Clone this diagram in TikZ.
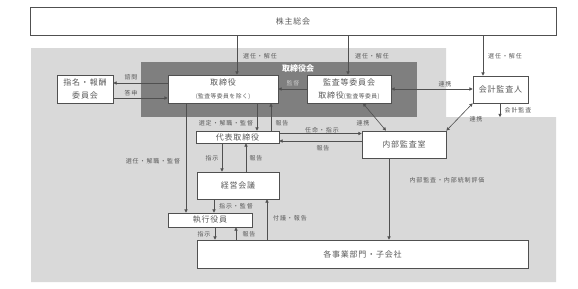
\documentclass[tikz,border=0pt]{standalone}
\usepackage{fontspec}
\setmainfont{Noto Sans CJK JP}
\usetikzlibrary{arrows.meta}
\definecolor{bglight}{HTML}{D9D9D9}
\definecolor{bgdark}{HTML}{7F7F7F}
\definecolor{ln}{HTML}{505050}
\definecolor{tx}{HTML}{5A5A5A}
\definecolor{ondark}{HTML}{C8C8C8}
\newcommand{\boxfont}{\fontsize{8}{13}\selectfont\addfontfeature{LetterSpace=10}}
\newcommand{\smallfont}{\fontsize{5.8}{13}\selectfont\addfontfeature{LetterSpace=8}}
\tikzset{
  box/.style={draw=ln, line width=0.7pt, fill=white, text=tx, inner sep=0pt,
    font=\boxfont, align=center},
  lbl/.style={text=tx, inner sep=0pt, font=\fontsize{6}{7}\selectfont\addfontfeature{LetterSpace=15}},
  arr/.style={draw=ln, line width=0.6pt, -{Triangle[length=3.2pt,width=3.2pt]}},
  darr/.style={draw=ln, line width=0.6pt, {Triangle[length=3.2pt,width=3.2pt]}-{Triangle[length=3.2pt,width=3.2pt]}}
}
\begin{document}
\begin{tikzpicture}[x=1pt,y=-1pt]
\useasboundingbox (0,0) rectangle (578,289);
\fill[white] (0,0) rectangle (578,289);
% backgrounds
\fill[bglight] (31,48) -- (446,48) -- (446,117) -- (556,117) -- (556,282) -- (31,282) -- cycle;
\fill[bgdark] (141,62) rectangle (417,117);
\node[text=white, font=\bfseries\fontsize{8}{9}\selectfont, inner sep=0pt] (bodlbl) at (298,68) {取締役会};
% boxes
\node[box, minimum width=526pt, minimum height=28pt] (kabu) at (293,21) {株主総会};
\node[box, minimum width=56pt, minimum height=28pt] (shimei) at (85,89) {指名・報酬\\委員会};
\node[box, minimum width=110pt, minimum height=28pt] (tori) at (223,89) {取締役\\{\smallfont (監査等委員を除く)}};
\node[box, minimum width=84pt, minimum height=28pt] (kansa) at (349,89) {監査等委員会\\取締役{\smallfont (監査等委員)}};
\node[box, minimum width=55pt, minimum height=27pt] (kaikei) at (500.5,89.5) {会計監査人};
\node[box, minimum width=83pt, minimum height=12pt] (daihyo) at (237.5,137) {代表取締役};
\node[box, minimum width=84pt, minimum height=27pt] (naibu) at (404,144.5) {内部監査室};
\node[box, minimum width=82pt, minimum height=27pt] (keiei) at (238,185.5) {経営会議};
\node[box, minimum width=84pt, minimum height=14pt] (shikko) at (210,220) {執行役員};
\node[box, minimum width=331pt, minimum height=28pt] (jigyo) at (362.5,254) {各事業部門・子会社};
% 株主総会 arrows
\draw[arr] (237,0 |- kabu.south) -- (237,0 |- tori.north);
\draw[arr] (348,0 |- kabu.south) -- (348,0 |- kansa.north);
\draw[arr] (483,0 |- kabu.south) -- (483,0 |- kaikei.north);
\node[lbl] (l1) at (260,56) {選任・解任};
\node[lbl] (l2) at (372,56) {選任・解任};
\node[lbl] (l3) at (505,56) {選任・解任};
% 指名・報酬委員会
\draw[arr] (tori.west |- 0,83) -- (shimei.east |- 0,83);
\draw[arr] (shimei.east |- 0,98) -- (tori.west |- 0,98);
\node[lbl] (l4) at (131,77) {諮問};
\node[lbl] (l5) at (131,93) {答申};
% 監督
\draw[arr] (kansa.west |- 0,89) -- (tori.east |- 0,89);
\node[lbl, text=ondark] (l6) at (293,83) {監督};
% 連携 kansa-kaikei
\draw[darr] (kansa.east |- 0,89) -- (kaikei.west |- 0,89);
\node[lbl] (l7) at (445,84) {連携};
% 会計監査
\coordinate (kaend) at (500,117);
\draw[arr] (500,0 |- kaikei.south) -- (kaend);
\node[lbl] (l8) at (518,110) {会計監査};
% 連携 kaikei-naibu
\draw[darr] (kaikei.south west) -- (naibu.north east);
\node[lbl] (l9) at (476,119) {連携};
% 連携 kansa-naibu
\draw[darr] (363,0 |- kansa.south) -- (386,0 |- naibu.north);
\node[lbl] (l10) at (363,123) {連携};
% 取締役 - 代表取締役
\draw[arr] (257,0 |- tori.south) -- (257,0 |- daihyo.north);
\draw[arr] (271,0 |- daihyo.north) -- (271,0 |- tori.south);
\node[lbl] (l11) at (226,123) {選定・解職・監督};
\node[lbl] (l12) at (282,123) {報告};
% 代表取締役 - 内部監査室
\draw[arr] (daihyo.east |- 0,133.5) -- (naibu.west |- 0,133.5);
\draw[arr] (naibu.west |- 0,141) -- (daihyo.east |- 0,141);
\node[lbl] (l13) at (322,130) {任命・指示};
\node[lbl] (l14) at (323,148) {報告};
% 代表取締役 - 経営会議
\draw[arr] (222,0 |- daihyo.south) -- (222,0 |- keiei.north);
\draw[arr] (246,0 |- keiei.north) -- (246,0 |- daihyo.south);
\node[lbl] (l15) at (212,158) {指示};
\node[lbl] (l16) at (256,158) {報告};
% 取締役 - 執行役員
\draw[arr] (186,0 |- tori.south) -- (186,0 |- shikko.north);
\node[lbl] (l17) at (153,161) {選任・解職・監督};
% 経営会議 - 執行役員
\draw[arr] (214,0 |- keiei.south) -- (214,0 |- shikko.north);
\node[lbl] (l18) at (236,206) {指示・監督};
% 執行役員 - 各事業部門
\draw[arr] (215,0 |- shikko.south) -- (215,0 |- jigyo.north);
\draw[arr] (236,0 |- jigyo.north) -- (236,0 |- shikko.south);
\node[lbl] (l19) at (204,234) {指示};
\node[lbl] (l20) at (249,234) {報告};
% 付議・報告
\draw[arr] (267,0 |- jigyo.north) -- (267,0 |- keiei.south);
\node[lbl] (l21) at (290,218) {付議・報告};
% 内部監査
\draw[arr] (389,0 |- naibu.south) -- (389,0 |- jigyo.north);
\node[lbl] (l22) at (447,180) {内部監査・内部統制評価};
\end{tikzpicture}
\end{document}
